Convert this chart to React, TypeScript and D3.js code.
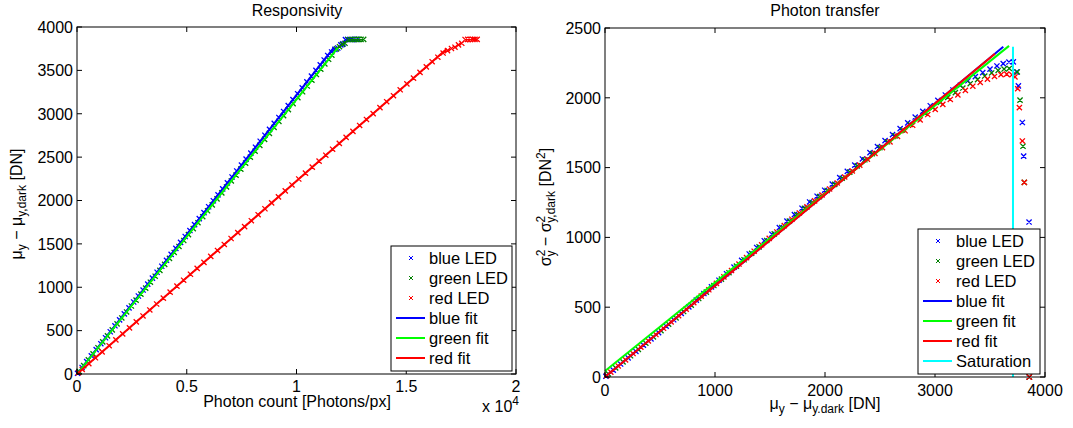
import React from "react";
import * as d3 from "d3";

const FONT = "'Liberation Sans', Arial, Helvetica, sans-serif";

// each row: [photons per px, mean - dark (DN), variance - dark variance (DN^2)]
const blueLed: number[][] = [
  [25, 8, 5], [233, 75, 49], [442, 142, 93], [653, 210, 137], [874, 281, 183], [1086, 349, 228],
  [1300, 418, 273], [1515, 487, 318], [1729, 556, 364], [1941, 624, 410], [2156, 693, 456],
  [2370, 762, 502], [2582, 830, 551], [2796, 899, 598], [3011, 968, 646], [3222, 1036, 693],
  [3437, 1105, 740], [3649, 1173, 787], [3863, 1242, 835], [4078, 1311, 881], [4289, 1379, 928],
  [4504, 1448, 976], [4718, 1517, 1023], [4930, 1585, 1070], [5145, 1654, 1117], [5356, 1722, 1163],
  [5571, 1791, 1209], [5785, 1860, 1254], [5997, 1928, 1295], [6211, 1997, 1338], [6426, 2066, 1382],
  [6638, 2134, 1428], [6852, 2203, 1473], [7064, 2271, 1518], [7278, 2340, 1562], [7493, 2409, 1607],
  [7704, 2477, 1651], [7919, 2546, 1693], [8131, 2614, 1736], [8345, 2683, 1779], [8560, 2752, 1820],
  [8771, 2820, 1862], [8986, 2889, 1903], [9197, 2957, 1943], [9412, 3026, 1982], [9624, 3094, 2020],
  [9838, 3163, 2056], [10050, 3231, 2090], [10261, 3299, 2122], [10473, 3367, 2152], [10681, 3434, 2180],
  [10886, 3500, 2205], [11082, 3563, 2228], [11260, 3620, 2245], [11421, 3672, 2256], [11600, 3712, 2257],
  [11750, 3742, 2185], [11880, 3758, 2085], [12020, 3794, 1823], [12120, 3806, 1582], [12230, 3855, 1110],
  [12330, 3856, 0], [12430, 3856, 0], [12530, 3856, 0], [12640, 3857, 0], [12760, 3857, 0],
];

const greenLed: number[][] = [
  [95, 30, 22], [306, 97, 65], [518, 164, 108], [733, 232, 152], [957, 303, 198], [1172, 371, 242],
  [1390, 440, 287], [1608, 509, 332], [1826, 578, 378], [2041, 646, 423], [2259, 715, 469],
  [2477, 784, 515], [2692, 852, 562], [2910, 921, 608], [3128, 990, 655], [3343, 1058, 701],
  [3561, 1127, 747], [3776, 1195, 794], [3994, 1264, 840], [4212, 1333, 886], [4427, 1401, 932],
  [4645, 1470, 978], [4863, 1539, 1025], [5077, 1607, 1071], [5296, 1676, 1117], [5510, 1744, 1163],
  [5728, 1813, 1208], [5946, 1882, 1250], [6161, 1950, 1292], [6379, 2019, 1336], [6597, 2088, 1380],
  [6812, 2156, 1424], [7030, 2225, 1468], [7245, 2293, 1512], [7463, 2362, 1556], [7681, 2431, 1600],
  [7896, 2499, 1643], [8114, 2568, 1685], [8329, 2636, 1727], [8547, 2705, 1769], [8765, 2774, 1810],
  [8979, 2842, 1850], [9198, 2911, 1890], [9412, 2979, 1929], [9630, 3048, 1967], [9845, 3116, 2003],
  [10063, 3185, 2037], [10278, 3253, 2070], [10490, 3320, 2101], [10701, 3387, 2130], [10907, 3452, 2156],
  [11106, 3515, 2178], [11292, 3574, 2196], [11463, 3628, 2206], [11611, 3675, 2210], [11820, 3748, 2185],
  [11960, 3773, 1983], [12090, 3800, 1653], [12210, 3812, 1394], [12340, 3856, 0], [12460, 3856, 0],
  [12580, 3856, 0], [12700, 3857, 0], [12820, 3857, 0], [12940, 3857, 0], [13060, 3858, 0],
];

const redLed: number[][] = [
  [67, 15, 10], [238, 53, 35], [539, 120, 79], [840, 187, 123], [1146, 255, 168], [1465, 326, 214],
  [1771, 394, 259], [2081, 463, 304], [2391, 532, 349], [2701, 601, 395], [3007, 669, 440],
  [3317, 738, 486], [3627, 807, 533], [3933, 875, 579], [4243, 944, 625], [4553, 1013, 671],
  [4858, 1081, 717], [5169, 1150, 763], [5474, 1218, 809], [5784, 1287, 855], [6094, 1356, 901],
  [6400, 1424, 947], [6710, 1493, 993], [7020, 1562, 1039], [7326, 1630, 1084], [7636, 1699, 1130],
  [7942, 1767, 1175], [8252, 1836, 1219], [8562, 1905, 1262], [8867, 1973, 1304], [9178, 2042, 1347],
  [9488, 2111, 1390], [9793, 2179, 1433], [10103, 2248, 1476], [10409, 2316, 1518], [10719, 2385, 1560],
  [11029, 2454, 1602], [11335, 2522, 1643], [11645, 2591, 1684], [11951, 2659, 1724], [12261, 2728, 1764],
  [12571, 2797, 1803], [12876, 2865, 1842], [13187, 2934, 1880], [13492, 3002, 1917], [13802, 3071, 1953],
  [14108, 3139, 1988], [14418, 3208, 2021], [14724, 3276, 2053], [15029, 3344, 2083], [15330, 3411, 2110],
  [15627, 3477, 2134], [15915, 3541, 2153], [16180, 3600, 2166], [16440, 3652, 2170], [16680, 3700, 2165],
  [16880, 3727, 2150], [17060, 3752, 2065], [17220, 3767, 1930], [17380, 3794, 1691], [17530, 3812, 1394],
  [17680, 3856, 0], [17800, 3857, 0], [17920, 3857, 0], [18030, 3857, 0], [18130, 3858, 0],
  [18230, 3858, 0],
];

// linear fits [x, y] end points
const blueRespFit = [[0, 0], [11700, 3762]];
const greenRespFit = [[0, 0], [11880, 3760]];
const redRespFit = [[0, 0], [16850, 3749]];
const bluePtcFit = [[0, 0], [3621, 2366]];
const greenPtcFit = [[0, 43], [3673, 2372]];
const redPtcFit = [[0, 0], [3545, 2316]];
const saturation = [[3709, 0], [3709, 2366]];

const respXTicks = [0, 5000, 10000, 15000, 20000];
const respXLabels = ["0", "0.5", "1", "1.5", "2"];
const respYTicks = [0, 500, 1000, 1500, 2000, 2500, 3000, 3500, 4000];
const ptcXTicks = [0, 1000, 2000, 3000, 4000];
const ptcYTicks = [0, 500, 1000, 1500, 2000, 2500];

const BLUE = "#0000ff";
const GREEN = "#008000";
const RED = "#ff0000";
const LIME = "#00ff00";
const CYAN = "#00ffff";

const xMark = (cx: number, cy: number, s = 2.6) =>
  `M${cx - s},${cy - s}L${cx + s},${cy + s}M${cx - s},${cy + s}L${cx + s},${cy - s}`;

function Frame({ x, y, xTicks, xLabels, yTicks, labelY }: any) {
  const [x0, x1] = x.range();
  const [y0, y1] = y.range();
  const t = 5;
  return (
    <g>
      <rect x={x0} y={y1} width={x1 - x0} height={y0 - y1} fill="none" stroke="#000" strokeWidth={1} />
      {xTicks.map((v: number, i: number) => (
        <g key={"x" + i}>
          <line x1={x(v)} x2={x(v)} y1={y0} y2={y0 - t} stroke="#000" />
          <line x1={x(v)} x2={x(v)} y1={y1} y2={y1 + t} stroke="#000" />
          <text x={x(v)} y={labelY} textAnchor="middle" fontSize={16}>
            {xLabels ? xLabels[i] : String(v)}
          </text>
        </g>
      ))}
      {yTicks.map((v: number, i: number) => (
        <g key={"y" + i}>
          <line x1={x0} x2={x0 + t} y1={y(v)} y2={y(v)} stroke="#000" />
          <line x1={x1} x2={x1 - t} y1={y(v)} y2={y(v)} stroke="#000" />
          <text x={x0 - 4} y={y(v)} dy="0.36em" textAnchor="end" fontSize={16}>
            {String(v)}
          </text>
        </g>
      ))}
    </g>
  );
}

function Legend({ x, y, w, entries }: any) {
  const rowH = 20;
  const h = entries.length * rowH + 5;
  return (
    <g>
      <rect x={x} y={y} width={w} height={h} fill="#fff" stroke="#000" strokeWidth={1} />
      {entries.map((e: any, i: number) => {
        const cy = y + 12 + i * rowH;
        return (
          <g key={i}>
            {e.kind === "mark" ? (
              <path d={xMark(x + 20, cy, 2)} stroke={e.color} strokeWidth={1} fill="none" />
            ) : (
              <line x1={x + 5} x2={x + 34} y1={cy} y2={cy} stroke={e.color} strokeWidth={2} />
            )}
            <text x={x + 38} y={cy} dy="0.36em" fontSize={16.5}>
              {e.label}
            </text>
          </g>
        );
      })}
    </g>
  );
}

export default function App() {
  const lx = d3.scaleLinear().domain([0, 20000]).range([77, 516]);
  const ly = d3.scaleLinear().domain([0, 4000]).range([374, 27]);
  const rx = d3.scaleLinear().domain([0, 4000]).range([605, 1045]);
  const ry = d3.scaleLinear().domain([0, 2500]).range([377, 28]);

  const line = d3.line<number[]>();
  const respMarks = (data: number[][]) => data.map((d) => xMark(lx(d[0]), ly(d[1]))).join("");
  const ptcMarks = (data: number[][]) => data.map((d) => xMark(rx(d[1]), ry(d[2]))).join("");
  const respLine = (fit: number[][]) => line(fit.map((d) => [lx(d[0]), ly(d[1])]))!;
  const ptcLine = (fit: number[][]) => line(fit.map((d) => [rx(d[0]), ry(d[1])]))!;

  const leds = [
    { data: blueLed, color: BLUE },
    { data: greenLed, color: GREEN },
    { data: redLed, color: RED },
  ];

  const baseEntries = [
    { kind: "mark", color: BLUE, label: "blue LED" },
    { kind: "mark", color: GREEN, label: "green LED" },
    { kind: "mark", color: RED, label: "red LED" },
    { kind: "line", color: BLUE, label: "blue fit" },
    { kind: "line", color: LIME, label: "green fit" },
    { kind: "line", color: RED, label: "red fit" },
  ];

  return (
    <svg
      width={1073}
      height={428}
      style={{ position: "absolute", left: 0, top: 0, background: "#fff" }}
      fontFamily={FONT}
    >
      <rect width={1073} height={428} fill="#fff" />

      {/* Responsivity */}
      <text x={297} y={16} textAnchor="middle" fontSize={16}>Responsivity</text>
      {leds.map((l, i) => (
        <path key={i} d={respMarks(l.data)} stroke={l.color} strokeWidth={1.3} fill="none" />
      ))}
      <path d={respLine(blueRespFit)} stroke={BLUE} strokeWidth={2} fill="none" />
      <path d={respLine(greenRespFit)} stroke={LIME} strokeWidth={2} fill="none" />
      <path d={respLine(redRespFit)} stroke={RED} strokeWidth={2} fill="none" />
      <Frame x={lx} y={ly} xTicks={respXTicks} xLabels={respXLabels} yTicks={respYTicks} labelY={392} />
      <text x={297} y={407} textAnchor="middle" fontSize={16}>Photon count [Photons/px]</text>
      <text x={519} y={412} textAnchor="end" fontSize={16}>
        x 10<tspan fontSize={12} dy={-7}>4</tspan>
      </text>
      <text transform="translate(22,204) rotate(-90)" textAnchor="middle" fontSize={16}>
        μ<tspan fontSize={12} dy={4}>y</tspan>
        <tspan dy={-4}> − μ</tspan>
        <tspan fontSize={12} dy={4}>y,dark</tspan>
        <tspan dy={-4}> [DN]</tspan>
      </text>
      <Legend x={391} y={246} w={121} entries={baseEntries} />

      {/* Photon transfer */}
      <text x={825} y={16} textAnchor="middle" fontSize={16}>Photon transfer</text>
      {leds.map((l, i) => (
        <path key={i} d={ptcMarks(l.data)} stroke={l.color} strokeWidth={1.3} fill="none" />
      ))}
      <path d={ptcLine(bluePtcFit)} stroke={BLUE} strokeWidth={2} fill="none" />
      <path d={ptcLine(greenPtcFit)} stroke={LIME} strokeWidth={2} fill="none" />
      <path d={ptcLine(redPtcFit)} stroke={RED} strokeWidth={2} fill="none" />
      <path d={ptcLine(saturation)} stroke={CYAN} strokeWidth={2} fill="none" />
      <Frame x={rx} y={ry} xTicks={ptcXTicks} yTicks={ptcYTicks} labelY={396} />
      <text x={825} y={409} textAnchor="middle" fontSize={16}>
        μ<tspan fontSize={12} dy={4}>y</tspan>
        <tspan dy={-4}> − μ</tspan>
        <tspan fontSize={12} dy={4}>y.dark</tspan>
        <tspan dy={-4}> [DN]</tspan>
      </text>
      <text transform="translate(551,207) rotate(-90)" textAnchor="middle" fontSize={16}>
        σ<tspan fontSize={12} dy={-6}>2</tspan>
        <tspan fontSize={12} dx={-7} dy={10}>y</tspan>
        <tspan dy={-4}> − σ</tspan>
        <tspan fontSize={12} dy={-6}>2</tspan>
        <tspan fontSize={12} dx={-7} dy={10}>y,dark</tspan>
        <tspan dy={-4}> [DN</tspan>
        <tspan fontSize={12} dy={-6}>2</tspan>
        <tspan dy={6}>]</tspan>
      </text>
      <Legend
        x={918}
        y={229}
        w={122}
        entries={[...baseEntries, { kind: "line", color: CYAN, label: "Saturation" }]}
      />
    </svg>
  );
}
